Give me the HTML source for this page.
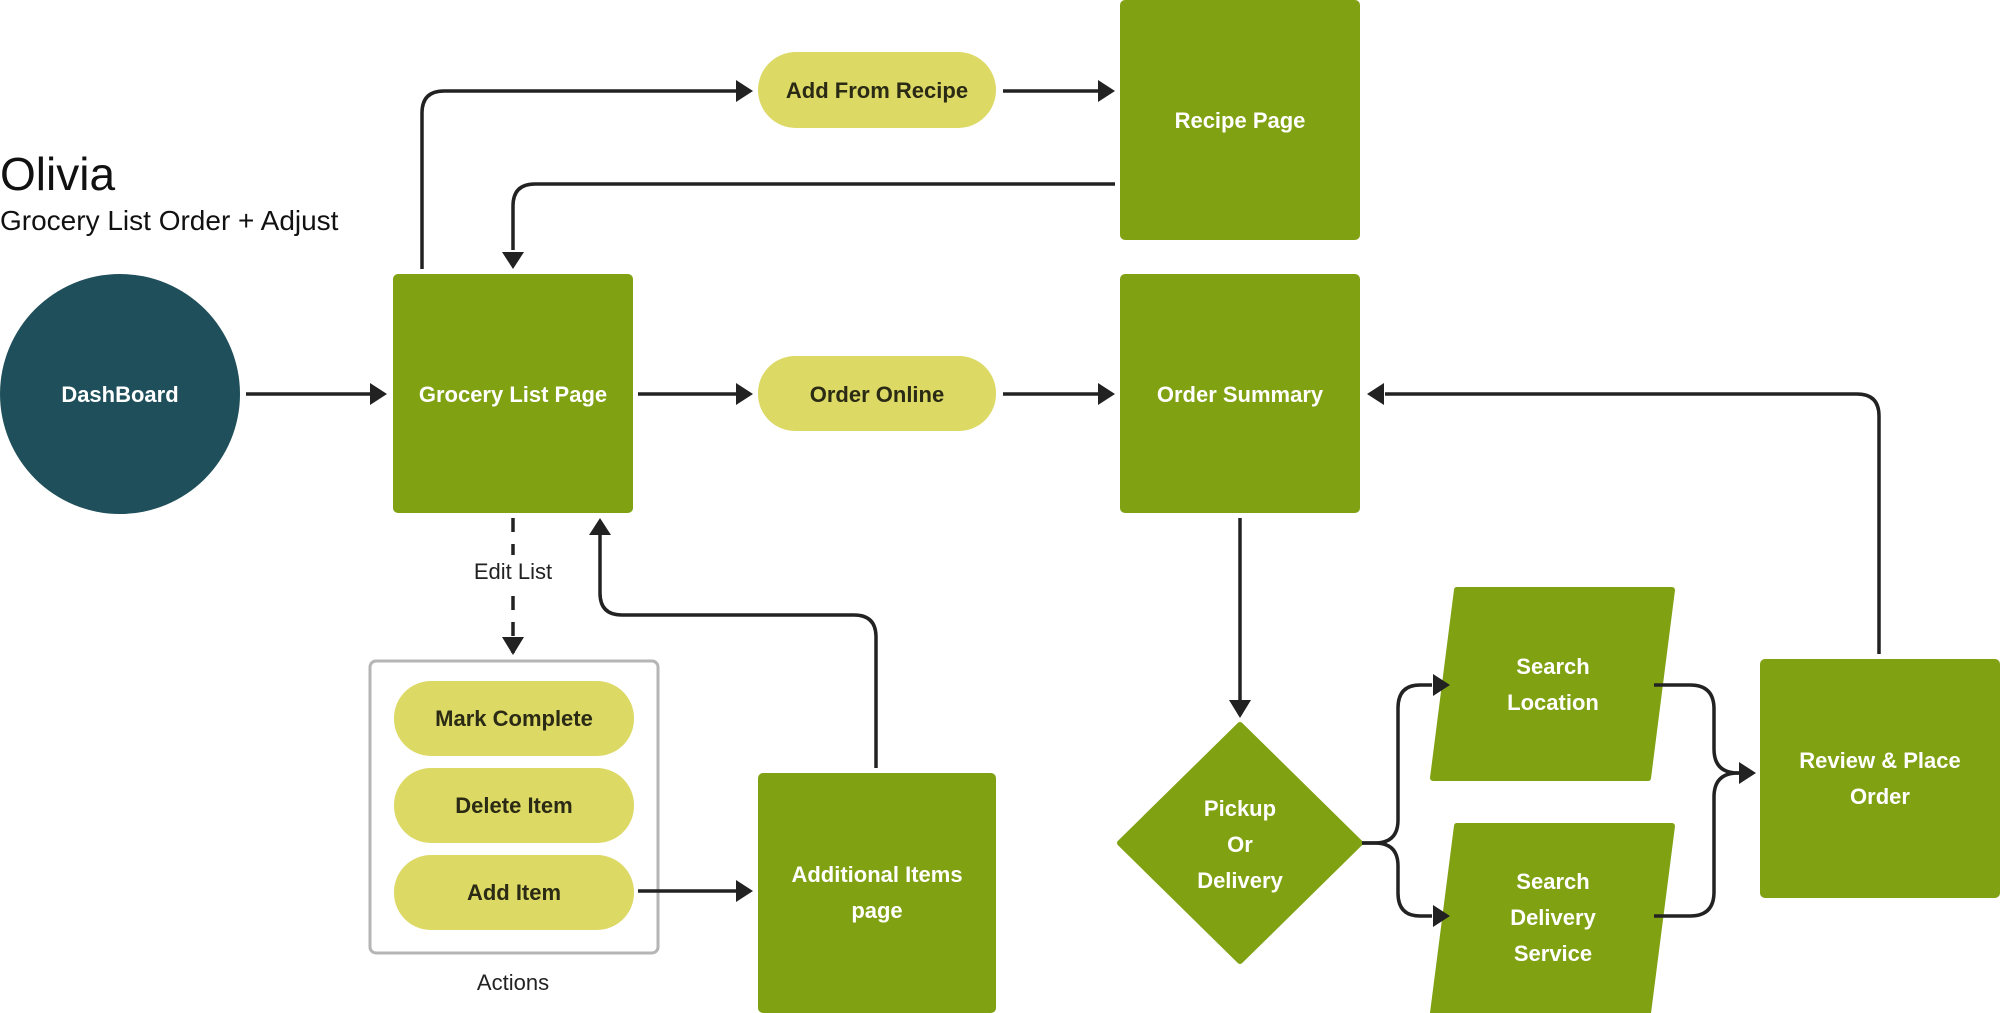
<!DOCTYPE html>
<html><head><meta charset="utf-8"><style>
html,body{margin:0;padding:0;background:#fff;}
svg{display:block;}
text{font-family:"Liberation Sans",sans-serif;}
</style></head><body>
<svg width="2000" height="1013" viewBox="0 0 2000 1013" xmlns="http://www.w3.org/2000/svg">
<defs>
<marker id="a" viewBox="0 0 10 10" refX="9" refY="5" markerWidth="6" markerHeight="6" orient="auto" markerUnits="userSpaceOnUse" style="overflow:visible">
</marker>
</defs>
<!-- title -->
<text x="0" y="190" font-size="46" fill="#111">Olivia</text>
<text x="0" y="230" font-size="28" fill="#111">Grocery List Order + Adjust</text>

<!-- shapes -->
<circle cx="120" cy="394" r="120" fill="#1f4f5a"/>
<rect x="393" y="274" width="240" height="239" rx="5" fill="#80a111"/>
<rect x="1120" y="0" width="240" height="240" rx="5" fill="#80a111"/>
<rect x="1120" y="274" width="240" height="239" rx="5" fill="#80a111"/>
<rect x="758" y="773" width="238" height="240" rx="5" fill="#80a111"/>
<rect x="1760" y="659" width="240" height="239" rx="5" fill="#80a111"/>
<rect x="758" y="52" width="238" height="76" rx="38" fill="#dcd965"/>
<rect x="758" y="356" width="238" height="75" rx="37" fill="#dcd965"/>
<rect x="370" y="661" width="288" height="292" rx="6" fill="none" stroke="#b5b5b5" stroke-width="3"/>
<rect x="394" y="681" width="240" height="75" rx="37" fill="#dcd965"/>
<rect x="394" y="768" width="240" height="75" rx="37" fill="#dcd965"/>
<rect x="394" y="855" width="240" height="75" rx="37" fill="#dcd965"/>
<polygon points="1240,725 1360,843 1240,961 1120,843" fill="#80a111" stroke="#80a111" stroke-width="6" stroke-linejoin="round"/>
<polygon points="1457,590 1672,590 1648,778 1433,778" fill="#80a111" stroke="#80a111" stroke-width="6" stroke-linejoin="round"/>
<polygon points="1457,826 1672,826 1648,1013 1433,1013" fill="#80a111" stroke="#80a111" stroke-width="6" stroke-linejoin="round"/>

<!-- connectors -->
<g fill="none" stroke="#222" stroke-width="3.5">
<path d="M246,394H375"/>
<path d="M638,394H738"/>
<path d="M1003,394H1100"/>
<path d="M422,269V113Q422,91 444,91H738"/>
<path d="M1003,91H1100"/>
<path d="M1115,184H535Q513,184 513,206V250"/>
<path d="M513,518V653" stroke-dasharray="14,12"/>
<path d="M638,891H738"/>
<path d="M876,768V637Q876,615 854,615H622Q600,615 600,593V535"/>
<path d="M1240,518V700"/>
<path d="M1362,843H1375Q1398,843 1398,820V708Q1398,685 1420,685H1432"/>
<path d="M1362,843H1375Q1398,843 1398,866V893Q1398,916 1420,916H1432"/>
<path d="M1654,685H1690Q1714,685 1714,709V749Q1714,773 1738,773H1742"/>
<path d="M1654,916H1690Q1714,916 1714,892V797Q1714,773 1738,773H1742"/>
<path d="M1879,654V416Q1879,394 1857,394H1385"/>
</g>
<g fill="#222">
<polygon points="387,394 370,383 370,405"/>
<polygon points="753,394 736,383 736,405"/>
<polygon points="1115,394 1098,383 1098,405"/>
<polygon points="753,91 736,80 736,102"/>
<polygon points="1115,91 1098,80 1098,102"/>
<polygon points="513,269 502,252 524,252"/>
<polygon points="513,655 502,637 524,637"/>
<polygon points="753,891 736,880 736,902"/>
<polygon points="600,518 589,535 611,535"/>
<polygon points="1240,718 1229,700 1251,700"/>
<polygon points="1450,685 1433,674 1433,696"/>
<polygon points="1450,916 1433,905 1433,927"/>
<polygon points="1756,773 1739,762 1739,784"/>
<polygon points="1367,394 1384,383 1384,405"/>
</g>
<rect x="470" y="555" width="86" height="32" fill="#fff"/>

<!-- labels -->
<g font-size="22" font-weight="bold" text-anchor="middle" fill="#fff">
<text x="120" y="402">DashBoard</text>
<text x="513" y="402">Grocery List Page</text>
<text x="1240" y="128">Recipe Page</text>
<text x="1240" y="402">Order Summary</text>
<text x="877" y="882">Additional Items</text>
<text x="877" y="918">page</text>
<text x="1880" y="768">Review &amp; Place</text>
<text x="1880" y="804">Order</text>
<text x="1240" y="816">Pickup</text>
<text x="1240" y="852">Or</text>
<text x="1240" y="888">Delivery</text>
<text x="1553" y="674">Search</text>
<text x="1553" y="710">Location</text>
<text x="1553" y="889">Search</text>
<text x="1553" y="925">Delivery</text>
<text x="1553" y="961">Service</text>
</g>
<g font-size="22" font-weight="bold" text-anchor="middle" fill="#2a2a15">
<text x="877" y="98">Add From Recipe</text>
<text x="877" y="402">Order Online</text>
<text x="514" y="726">Mark Complete</text>
<text x="514" y="813">Delete Item</text>
<text x="514" y="900">Add Item</text>
</g>
<g font-size="22" text-anchor="middle" fill="#222">
<text x="513" y="579">Edit List</text>
<text x="513" y="990">Actions</text>
</g>
</svg>
</body></html>
